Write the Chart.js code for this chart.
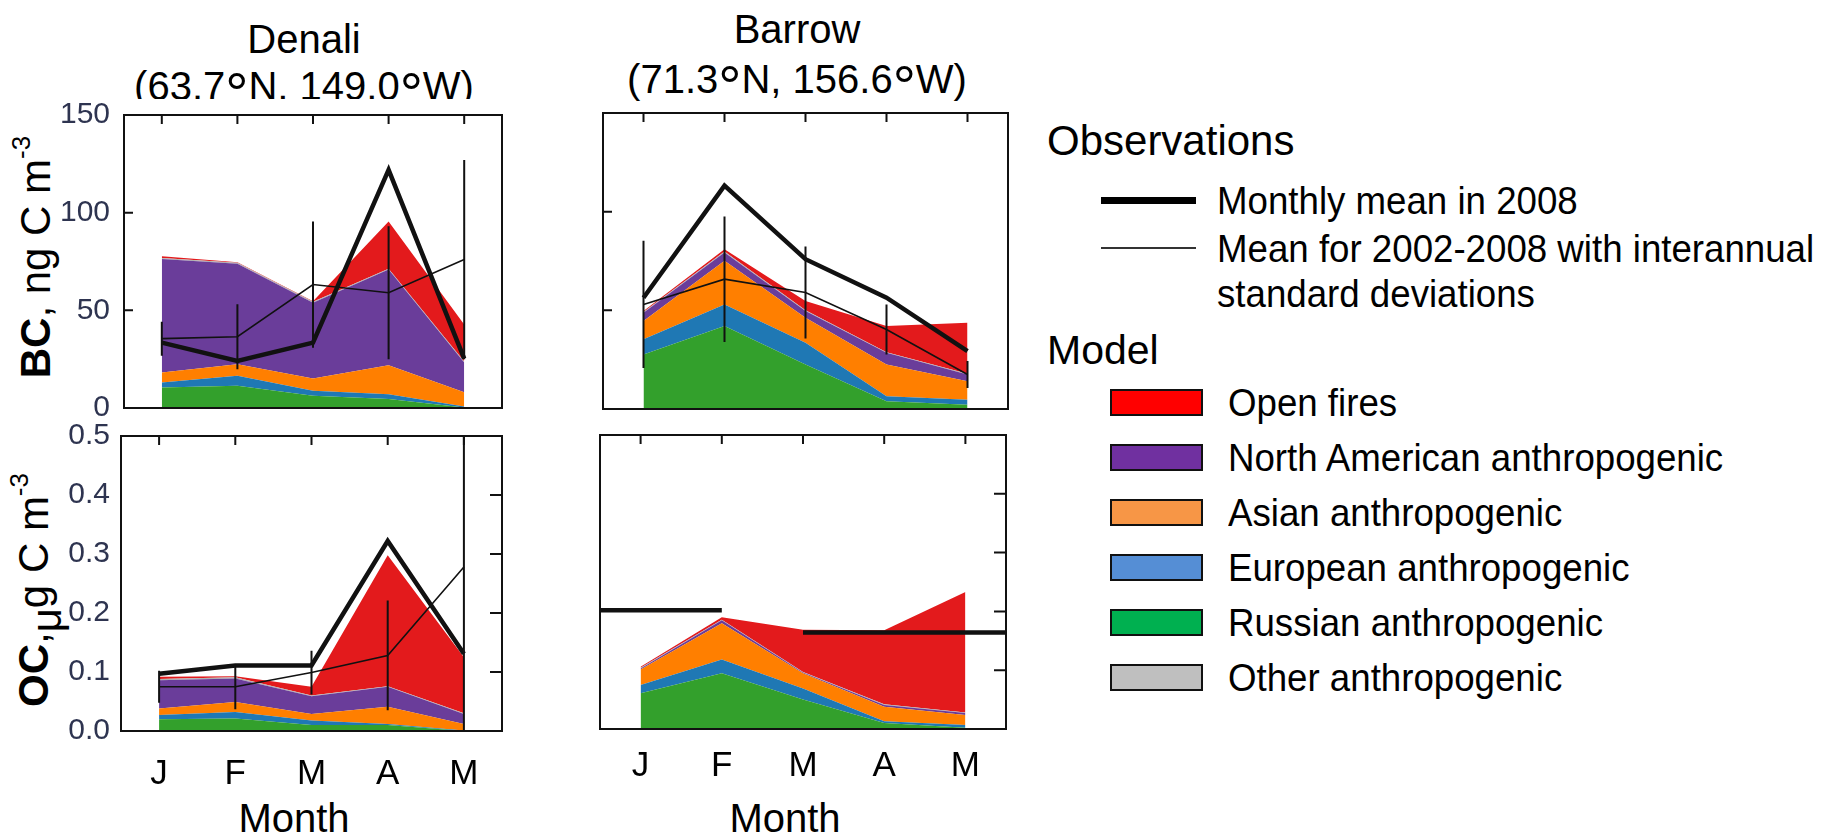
<!DOCTYPE html>
<html>
<head>
<meta charset="utf-8">
<script src="https://cdn.jsdelivr.net/npm/chart.js@4"></script>
<style>
  body { margin: 0; width: 1821px; height: 836px; background: #fff; overflow: hidden; position: relative;
         font-family: "Liberation Sans", Arial, sans-serif; color: #000; }
  canvas { position: absolute; }
  .txt { position: absolute; white-space: nowrap; line-height: 1; }
  .title { width: 440px; text-align: center; font-size: 40px; }
  .deg { font-size: 1.45em; line-height: 0; position: relative; top: 0.22em; }
  .ylab { font-size: 42px; transform: translate(-50%, -50%) rotate(-90deg); }
  .sup { font-size: 0.62em; position: relative; top: -0.75em; }
  .sub { position: relative; top: 0.32em; }
  .narrow { display: inline-block; transform: scaleX(0.94); transform-origin: left center; font-size: 39px; }
  .swatch { position: absolute; width: 89px; height: 23px; border: 2px solid #111; }
</style>
</head>
<body>

<!-- titres des stations -->
<div class="txt title" style="left:84px; top:19px;">Denali</div>
<div class="txt title" style="left:84px; top:66px; height:33px; overflow:hidden;">(63.7<span class="deg">°</span>N, 149.0<span class="deg">°</span>W)</div>
<div class="txt title" style="left:577px; top:9px;">Barrow</div>
<div class="txt title" style="left:577px; top:59px;">(71.3<span class="deg">°</span>N, 156.6<span class="deg">°</span>W)</div>

<!-- titres des axes -->
<div class="txt ylab" style="left:36px; top:257px;"><b>BC</b>, ng C m<span class="sup">-3</span></div>
<div class="txt ylab" style="left:34px; top:590px;"><b>OC</b>,<span class="sub">μ</span>g C m<span class="sup">-3</span></div>
<div class="txt" style="left:294px; top:798px; font-size:40px; transform:translateX(-50%);">Month</div>
<div class="txt" style="left:785px; top:798px; font-size:40px; transform:translateX(-50%);">Month</div>

<canvas id="denaliBc" width="530" height="343" style="left:0px; top:90px;"></canvas>
<canvas id="denaliOc" width="530" height="390" style="left:0px; top:411px;"></canvas>
<canvas id="barrowBc" width="450" height="346" style="left:580px; top:88px;"></canvas>
<canvas id="barrowOc" width="450" height="389" style="left:580px; top:410px;"></canvas>

<!-- légende -->
<div class="txt" style="left:1047px; top:120px; font-size:42px;">Observations</div>
<div style="position:absolute; left:1101px; top:197px; width:95px; height:7px; background:#000;"></div>
<div class="txt" style="left:1217px; top:181px;"><span class="narrow">Monthly mean in 2008</span></div>
<div style="position:absolute; left:1101px; top:247px; width:95px; height:2px; background:#333;"></div>
<div class="txt" style="left:1217px; top:229px;"><span class="narrow">Mean for 2002-2008 with interannual</span></div>
<div class="txt" style="left:1217px; top:274px;"><span class="narrow">standard deviations</span></div>
<div class="txt" style="left:1047px; top:330px; font-size:41px;">Model</div>
<div id="modelLegend"></div>

<script>
// mois et positions
const months = ['J', 'F', 'M', 'A', 'M'];
const monthIdx = [0, 1, 2, 3, 4];

// sources du modèle (du bas vers le haut de la pile)
const sources = ['Russian anthropogenic', 'European anthropogenic', 'Asian anthropogenic',
                 'North American anthropogenic', 'Other anthropogenic', 'Open fires'];
const fillColors = ['#33a02c', '#1f78b4', '#ff7f00', '#6a3d9a', '#b0b0b0', '#e31a1c'];
const legendColors = ['#00b050', '#558ed5', '#f79646', '#7030a0', '#bfbfbf', '#ff0000'];

// Denali BC (ng C m-3)
const denaliBcRussian = [10.5, 11.4, 6.3, 4.6, 0.3];
const denaliBcEuropean = [2.5, 5.1, 2.5, 2.5, 0.5];
const denaliBcAsian = [5.2, 5.9, 6.3, 14.8, 7.2];
const denaliBcNorthAm = [58.1, 51.4, 38.8, 49.0, 15.3];
const denaliBcOther = [0.5, 0.5, 0.5, 0.4, 0.5];
const denaliBcFires = [0.9, 0.3, 0.3, 24.2, 19.0];
const denaliBc2008 = [33.5, 24.1, 33.5, 121.9, 25.3];
const denaliBcMean = [35.5, 36.5, 63.2, 59.0, 76.0];
const denaliBcSd = [8.7, 16.6, 32.3, 34.0, 51.0];

// Denali OC (ug C m-3)
const denaliOcRussian = [0.020, 0.021, 0.010, 0.010, 0.000];
const denaliOcEuropean = [0.007, 0.011, 0.008, 0.002, 0.001];
const denaliOcAsian = [0.011, 0.017, 0.011, 0.029, 0.011];
const denaliOcNorthAm = [0.048, 0.040, 0.030, 0.034, 0.017];
const denaliOcOther = [0.002, 0.002, 0.001, 0.001, 0.001];
const denaliOcFires = [0.004, 0.002, 0.015, 0.222, 0.095];
const denaliOc2008 = [0.097, 0.111, 0.111, 0.322, 0.131];
const denaliOcMean = [0.075, 0.075, 0.099, 0.128, 0.278];
const denaliOcSd = [0.027, 0.038, 0.037, 0.093, 0.31];

// Barrow BC
const barrowBcRussian = [27.6, 42.0, 22.5, 3.9, 2.2];
const barrowBcEuropean = [7.7, 11.0, 11.1, 2.5, 2.5];
const barrowBcAsian = [9.3, 22.1, 12.7, 16.1, 9.4];
const barrowBcNorthAm = [4.2, 4.2, 3.4, 6.0, 3.4];
const barrowBcOther = [0.4, 0.5, 0.3, 0.3, 0.3];
const barrowBcFires = [0.5, 1.2, 4.7, 13.2, 25.9];
const barrowBc2008 = [56.4, 113.2, 75.9, 56.4, 29.3];
const barrowBcMean = [53.0, 65.8, 59.0, 40.3, 17.5];
const barrowBcSd = [32.2, 31.8, 23.3, 12.7, 6.8];

// Barrow OC
const barrowOcRussian = [0.061, 0.095, 0.050, 0.010, 0.002];
const barrowOcEuropean = [0.014, 0.023, 0.019, 0.003, 0.005];
const barrowOcAsian = [0.026, 0.062, 0.026, 0.025, 0.017];
const barrowOcNorthAm = [0.002, 0.005, 0.001, 0.003, 0.003];
const barrowOcOther = [0.001, 0.001, 0.001, 0.001, 0.001];
const barrowOcFires = [0.002, 0.004, 0.072, 0.126, 0.205];
// observations Barrow OC : paliers (début, fin, valeur)
const barrowOcObsStart = [-0.5, 2];
const barrowOcObsEnd = [1, 4.5];
const barrowOcObsValue = [0.202, 0.164];

// graduations
const bcTicks = [50, 100];
const ocTicks = [0.1, 0.2, 0.3, 0.4];

// aires empilées : on cumule les couches
function aires(layers) {
  let base = [0, 0, 0, 0, 0];
  return layers.map((vals, i) => {
    base = base.map((b, j) => b + vals[j]);
    return {
      label: sources[i],
      data: base.map((y, j) => ({x: monthIdx[j], y: y})),
      backgroundColor: fillColors[i],
      borderWidth: 0, pointRadius: 0,
      fill: i === 0 ? 'origin' : '-1',
      order: 2
    };
  });
}

function ligne(vals, width) {
  return {
    data: vals.map((y, j) => ({x: monthIdx[j], y: y})),
    borderColor: '#111', borderWidth: width, pointRadius: 0, fill: false, order: 0
  };
}

// barres d'erreur = segments verticaux séparés par des trous
function barres(mean, sd) {
  const pts = [];
  mean.forEach((m, j) => {
    pts.push({x: monthIdx[j], y: m - sd[j]}, {x: monthIdx[j], y: m + sd[j]}, {x: monthIdx[j], y: null});
  });
  return {data: pts, borderColor: '#111', borderWidth: 2, pointRadius: 0, fill: false, spanGaps: false, order: 0};
}

// cadre + petites graduations vers l'intérieur
const cadre = {
  id: 'cadre',
  afterDatasetsDraw(chart, args, opts) {
    const {ctx, chartArea: a, scales} = chart;
    ctx.save();
    ctx.strokeStyle = '#111';
    ctx.lineWidth = 2;
    ctx.strokeRect(a.left, a.top, a.right - a.left, a.bottom - a.top);
    ctx.beginPath();
    monthIdx.forEach(v => {
      const px = scales.x.getPixelForValue(v);
      ctx.moveTo(px, a.top); ctx.lineTo(px, a.top + 9);
    });
    opts.yTicks.forEach(v => {
      const py = scales.y.getPixelForValue(v);
      if (opts.side === 'left') { ctx.moveTo(a.left, py); ctx.lineTo(a.left + 9, py); }
      else { ctx.moveTo(a.right, py); ctx.lineTo(a.right - 12, py); }
    });
    ctx.stroke();
    ctx.restore();
  }
};

function panneau(id, cfg) {
  const tickFont = {family: '"Liberation Sans", Arial, sans-serif', size: 30};
  new Chart(document.getElementById(id), {
    type: 'line',
    data: {datasets: cfg.datasets},
    plugins: [cadre],
    options: {
      responsive: false, animation: false, devicePixelRatio: 1,
      layout: {padding: cfg.padding},
      plugins: {legend: {display: false}, tooltip: {enabled: false},
                cadre: {side: cfg.side, yTicks: cfg.yTicks}},
      scales: {
        x: {
          type: 'linear', min: -0.5, max: 4.5,
          display: cfg.showX,
          grid: {display: false}, border: {display: false},
          afterBuildTicks: s => { s.ticks = monthIdx.map(v => ({value: v})); },
          afterFit: s => { s.height = cfg.xHeight; },
          ticks: {color: '#000', padding: cfg.xPad, maxRotation: 0, autoSkip: false,
                  font: {family: tickFont.family, size: 35},
                  callback: v => months[v]}
        },
        y: {
          min: 0, max: cfg.max,
          display: cfg.showY,
          grid: {display: false}, border: {display: false},
          afterFit: s => { s.width = cfg.yWidth; },
          ticks: {stepSize: cfg.step, color: '#2e3450', padding: cfg.yPad, font: tickFont,
                  callback: v => cfg.max < 1 ? v.toFixed(1) : v}
        }
      }
    }
  });
}

panneau('denaliBc', {
  datasets: [...aires([denaliBcRussian, denaliBcEuropean, denaliBcAsian, denaliBcNorthAm, denaliBcOther, denaliBcFires]),
             ligne(denaliBc2008, 4.5), ligne(denaliBcMean, 1.6), barres(denaliBcMean, denaliBcSd)],
  padding: {left: 0, top: 25, right: 28, bottom: 25},
  max: 150, step: 50, showX: false, showY: true, yWidth: 124, yPad: 6, xHeight: 0, xPad: 0,
  side: 'left', yTicks: bcTicks
});

panneau('denaliOc', {
  datasets: [...aires([denaliOcRussian, denaliOcEuropean, denaliOcAsian, denaliOcNorthAm, denaliOcOther, denaliOcFires]),
             ligne(denaliOc2008, 4.5), ligne(denaliOcMean, 1.6), barres(denaliOcMean, denaliOcSd)],
  padding: {left: 0, top: 25, right: 28, bottom: 0},
  max: 0.5, step: 0.1, showX: true, showY: true, yWidth: 121, yPad: 3, xHeight: 70, xPad: 14,
  side: 'right', yTicks: ocTicks
});

panneau('barrowBc', {
  datasets: [...aires([barrowBcRussian, barrowBcEuropean, barrowBcAsian, barrowBcNorthAm, barrowBcOther, barrowBcFires]),
             ligne(barrowBc2008, 4.5), ligne(barrowBcMean, 1.6), barres(barrowBcMean, barrowBcSd)],
  padding: {left: 23, top: 25, right: 22, bottom: 25},
  max: 150, step: 50, showX: false, showY: false, yWidth: 0, yPad: 0, xHeight: 0, xPad: 0,
  side: 'left', yTicks: bcTicks
});

// paliers d'observation pour Barrow OC
const paliers = [];
barrowOcObsValue.forEach((v, k) => {
  paliers.push({x: barrowOcObsStart[k], y: v}, {x: barrowOcObsEnd[k], y: v}, {x: barrowOcObsEnd[k], y: null});
});

panneau('barrowOc', {
  datasets: [...aires([barrowOcRussian, barrowOcEuropean, barrowOcAsian, barrowOcNorthAm, barrowOcOther, barrowOcFires]),
             {data: paliers, borderColor: '#111', borderWidth: 4.5, pointRadius: 0, fill: false, spanGaps: false, order: 0}],
  padding: {left: 20, top: 25, right: 24, bottom: 0},
  max: 0.5, step: 0.1, showX: true, showY: false, yWidth: 0, yPad: 0, xHeight: 70, xPad: 8,
  side: 'right', yTicks: ocTicks
});

// légende du modèle (ordre d'affichage : du haut vers le bas)
const legendOrder = [5, 3, 2, 1, 0, 4];
const box = document.getElementById('modelLegend');
legendOrder.forEach((k, i) => {
  const cy = 402 + i * 55;
  const sw = document.createElement('div');
  sw.className = 'swatch';
  sw.style.left = '1110px';
  sw.style.top = (cy - 13) + 'px';
  sw.style.background = legendColors[k];
  box.appendChild(sw);
  const t = document.createElement('div');
  t.className = 'txt';
  t.style.left = '1228px';
  t.style.top = (cy - 19) + 'px';
  t.innerHTML = '<span class="narrow">' + sources[k] + '</span>';
  box.appendChild(t);
});
</script>
</body>
</html>
